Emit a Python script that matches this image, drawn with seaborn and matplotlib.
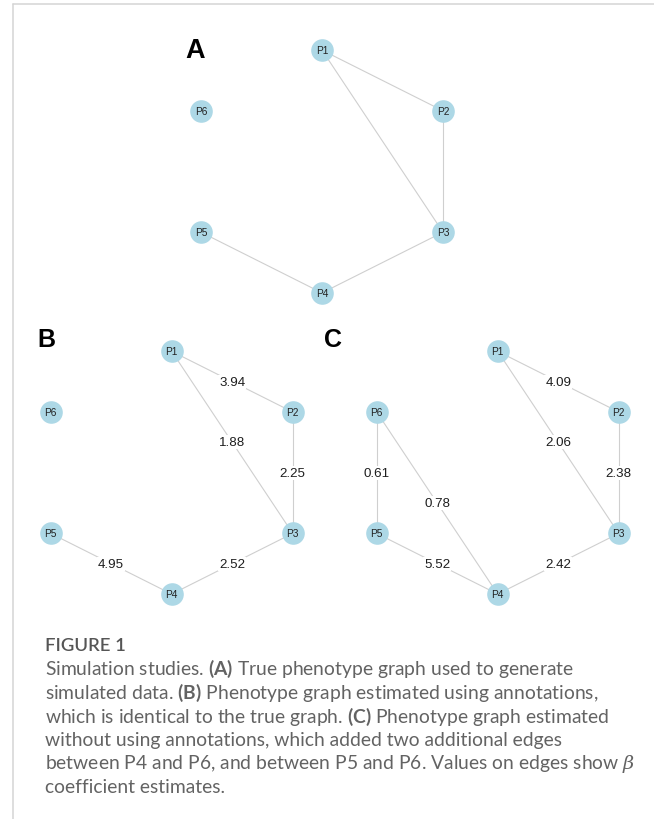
import numpy as np
import pandas as pd
import seaborn as sns
import matplotlib.pyplot as plt
from matplotlib.lines import Line2D

sns.set_theme(style="white")
plt.rcParams["font.family"] = ["Liberation Sans", "DejaVu Sans"]
plt.rcParams["mathtext.fontset"] = "custom"
plt.rcParams["mathtext.rm"] = "Lato"
plt.rcParams["mathtext.bf"] = "Lato:bold"
plt.rcParams["mathtext.it"] = "DejaVu Serif:italic"

# ---- data -------------------------------------------------------------
nodes = ["P1", "P2", "P3", "P4", "P5", "P6"]

edges_true = [("P1", "P2"), ("P1", "P3"), ("P2", "P3"), ("P3", "P4"), ("P4", "P5")]

edges_annot = [("P1", "P2"), ("P1", "P3"), ("P2", "P3"), ("P3", "P4"), ("P4", "P5")]
beta_annot = [3.94, 1.88, 2.25, 2.52, 4.95]

edges_noannot = [("P1", "P2"), ("P1", "P3"), ("P2", "P3"), ("P3", "P4"),
                 ("P4", "P5"), ("P4", "P6"), ("P5", "P6")]
beta_noannot = [4.09, 2.06, 2.38, 2.42, 5.52, 0.78, 0.61]

caption_title = "FIGURE 1"
caption_lines = [
    r"Simulation studies. $\mathbf{(A)}$ True phenotype graph used to generate",
    r"simulated data. $\mathbf{(B)}$ Phenotype graph estimated using annotations,",
    r"which is identical to the true graph. $\mathbf{(C)}$ Phenotype graph estimated",
    r"without using annotations, which added two additional edges",
    r"between P4 and P6, and between P5 and P6. Values on edges show $\beta$",
    r"coefficient estimates.",
]

# ---- figure -----------------------------------------------------------
W, H = 654, 820
fig = plt.figure(figsize=(W / 100, H / 100), dpi=100)
fig.patch.set_facecolor("white")

# circular layout, first node on top, going clockwise
theta = np.deg2rad(90 - 60 * np.arange(len(nodes)))
layout = pd.DataFrame({"node": nodes, "x": np.cos(theta), "y": np.sin(theta)})
pos = {r.node: (r.x, r.y) for r in layout.itertuples()}

RX, RY = 139.7, 121.4        # pixels per layout unit
XL, YL = 1.08, 1.15          # axis half-ranges in layout units


def add_graph_axes(cx, cy):
    """Axes whose layout origin sits at pixel (cx, cy) measured from top-left."""
    left = (cx - XL * RX) / W
    bottom = 1 - (cy + YL * RY) / H
    ax = fig.add_axes([left, bottom, 2 * XL * RX / W, 2 * YL * RY / H])
    ax.set_xlim(-XL, XL)
    ax.set_ylim(-YL, YL)
    ax.axis("off")
    ax.patch.set_alpha(0)
    return ax


def draw_graph(ax, edges, weights=None):
    for i, (a, b) in enumerate(edges):
        (x0, y0), (x1, y1) = pos[a], pos[b]
        ax.plot([x0, x1], [y0, y1], color="#cfcfcf", lw=0.8, zorder=1,
                solid_capstyle="butt")
        if weights is not None:
            ax.text((x0 + x1) / 2, (y0 + y1) / 2, f"{weights[i]:.2f}",
                    ha="center", va="center", fontsize=9.6, color="#1e1e1e",
                    zorder=2,
                    bbox=dict(boxstyle="square,pad=0.08", fc="white", ec="none"))
    sns.scatterplot(data=layout, x="x", y="y", ax=ax, color="#ADD8E6",
                    s=265, linewidth=0, zorder=3, legend=False)
    for r in layout.itertuples():
        ax.text(r.x, r.y, r.node, ha="center", va="center", fontsize=7.3,
                color="#222222", zorder=4)
    ax.set_xlabel("")
    ax.set_ylabel("")


ax_a = add_graph_axes(322.0, 172.5)
draw_graph(ax_a, edges_true)
ax_b = add_graph_axes(171.7, 473.7)
draw_graph(ax_b, edges_annot, beta_annot)
ax_c = add_graph_axes(497.7, 473.7)
draw_graph(ax_c, edges_noannot, beta_noannot)

# panel letters
for letter, x, y, size in [("A", 185, 57.5, 19.5), ("B", 37, 347, 18), ("C", 324, 347, 18)]:
    fig.text(x / W, 1 - y / H, letter, fontsize=size, fontweight="bold",
             color="black", ha="left", va="baseline")

# frame lines
fig.add_artist(Line2D([13 / W, 1], [1 - 4.5 / H, 1 - 4.5 / H],
                      transform=fig.transFigure, color="#d4d4d4", lw=1.1))
fig.add_artist(Line2D([13 / W, 13 / W], [0, 1 - 4.5 / H],
                      transform=fig.transFigure, color="#d4d4d4", lw=1.1))

# caption
fig.text(45 / W, 1 - 651 / H, caption_title, fontsize=13.3, family="Lato",
         fontweight="semibold", color="#555555", ha="left", va="baseline")
baselines = [675, 699, 722.5, 746, 769.5, 793]
for line, yb in zip(caption_lines, baselines):
    fig.text(45 / W, 1 - yb / H, line, fontsize=13.9, family="Lato",
             color="#636363", ha="left", va="baseline")

fig.savefig("out.png", dpi=100, facecolor="white")
